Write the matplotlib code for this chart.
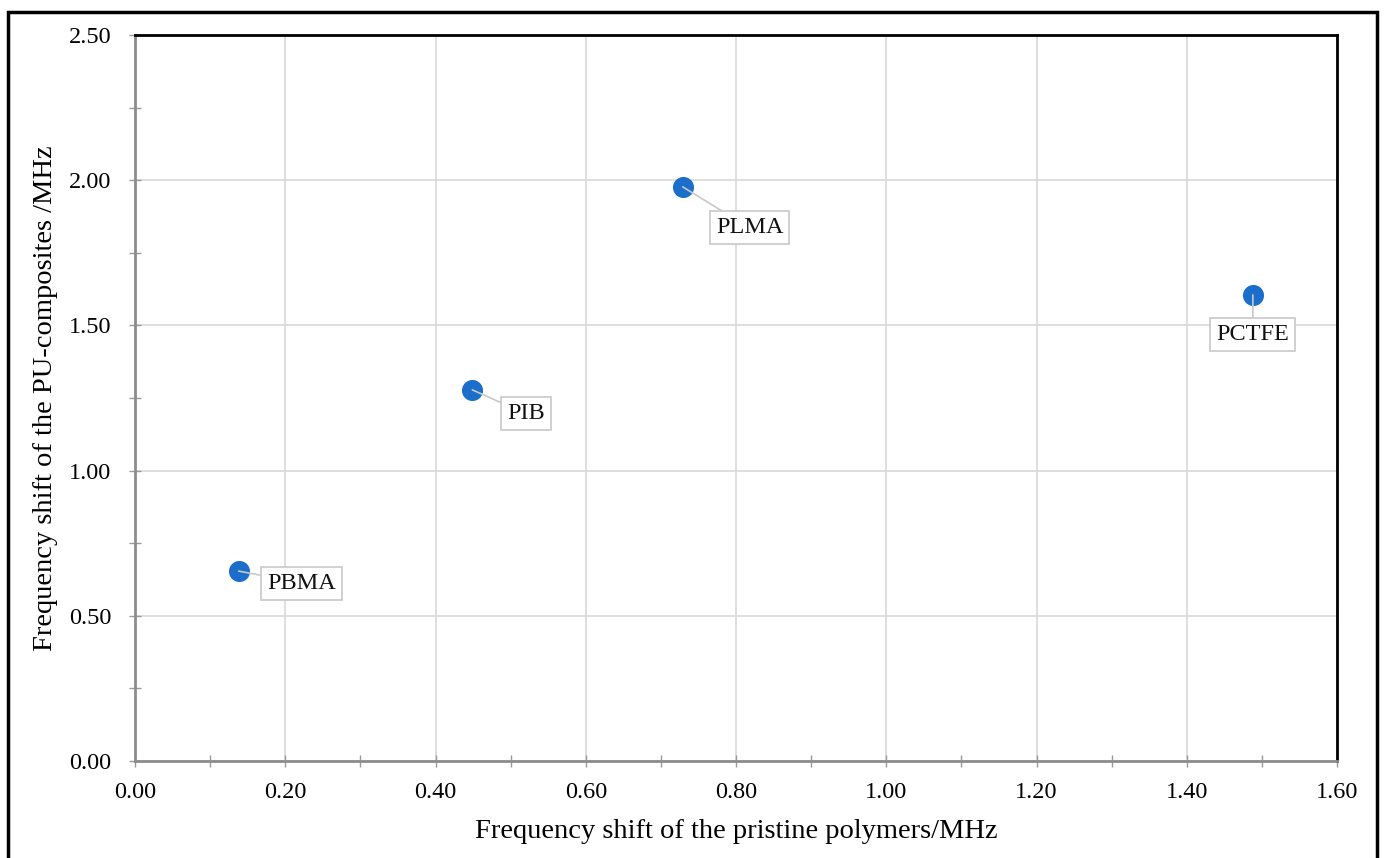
import matplotlib.pyplot as plt
from matplotlib.patches import Rectangle
from matplotlib.ticker import MultipleLocator, FormatStrFormatter

# data
polymers = ['PBMA', 'PIB', 'PLMA', 'PCTFE']
shift_pristine = [0.138, 0.449, 0.729, 1.488]
shift_composite = [0.654, 1.278, 1.977, 1.605]
label_offsets = [(63, -12), (54, -24), (67, -41), (0, -40)]  # label offset in pixels

plt.rcParams['font.family'] = ['Liberation Serif', 'DejaVu Serif']

fig = plt.figure(figsize=(13.85, 8.58), dpi=100)
ax = fig.add_axes([135/1385, 1 - 761/858, (1337-135)/1385, (761-35)/858])

ax.scatter(shift_pristine, shift_composite, s=200, color='#1c6ecb', zorder=3)

for name, x, y, (dx, dy) in zip(polymers, shift_pristine, shift_composite, label_offsets):
    ax.annotate(name, (x, y), xytext=(dx * 0.72, dy * 0.72), textcoords='offset points',
                ha='center', va='center', fontsize=17.5, color='#111111',
                bbox=dict(boxstyle='square,pad=0.25', fc='white', ec='#c8c8c8', lw=1.2),
                arrowprops=dict(arrowstyle='-', color='#c8c8c8', lw=1.2, shrinkA=0, shrinkB=0),
                zorder=4)

ax.set_xlim(0, 1.6)
ax.set_ylim(0, 2.5)
ax.xaxis.set_major_locator(MultipleLocator(0.2))
ax.xaxis.set_minor_locator(MultipleLocator(0.1))
ax.yaxis.set_major_locator(MultipleLocator(0.5))
ax.yaxis.set_minor_locator(MultipleLocator(0.25))
ax.xaxis.set_major_formatter(FormatStrFormatter('%.2f'))
ax.yaxis.set_major_formatter(FormatStrFormatter('%.2f'))
ax.grid(True, which='major', color='#d9d9d9', lw=1.2)
ax.set_axisbelow(True)
ax.tick_params(which='both', direction='inout', length=8, color='#999999', width=1,
               labelsize=17.5)
ax.tick_params(axis='x', pad=11)
ax.tick_params(axis='y', pad=13)

for s in ['left', 'bottom']:
    ax.spines[s].set_color('#8c8c8c')
    ax.spines[s].set_linewidth(2)
for s in ['top', 'right']:
    ax.spines[s].set_color('black')
    ax.spines[s].set_linewidth(2)

ax.set_xlabel('Frequency shift of the pristine polymers/MHz', fontsize=20.5, labelpad=12)
ax.set_ylabel('Frequency shift of the PU-composites /MHz', fontsize=20.5, labelpad=8)

# outer frame
fig.patches.append(Rectangle((8/1385, -0.01), (1377-8)/1385, 1 - 12/858 + 0.01,
                             transform=fig.transFigure, fill=False, ec='black', lw=2.5))

fig.savefig('out.png', dpi=100)
